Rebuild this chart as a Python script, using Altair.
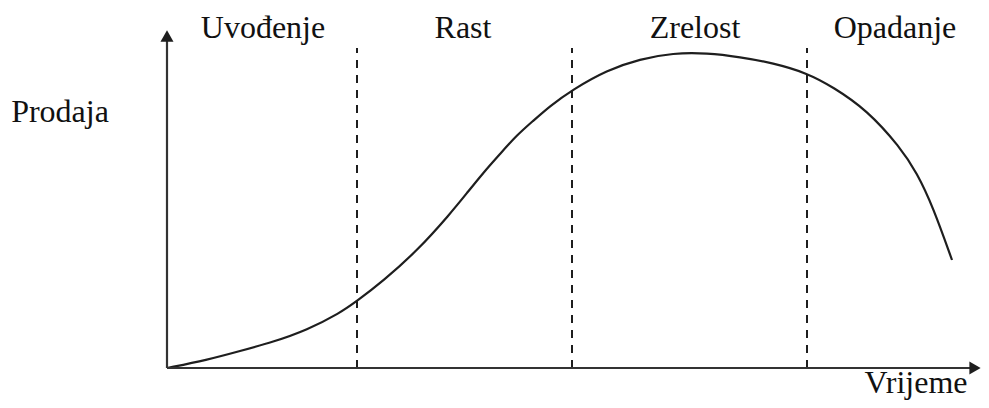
import altair as alt
import pandas as pd

# Product life-cycle curve (time, sales)
time_vals = [0, 40, 73, 106, 140, 173, 190, 216, 250, 283, 300, 316, 333, 350, 366,
             383, 405, 440, 473, 506, 540, 573, 606, 640, 666, 700, 733, 750, 766, 785]
sales_vals = [0, 8, 17, 26, 38, 55, 67, 87, 117, 154, 175, 195, 214, 233, 247,
              262, 278, 298, 309, 315, 315, 311, 305, 295, 281, 258, 221, 195, 161, 108]

# Stage boundaries
boundaries = [190, 405, 640]
boundary_top = 320

# Stage labels
stage_names = ["Uvođenje", "Rast", "Zrelost", "Opadanje"]
stage_x = [96, 296, 528, 728]
stage_y = [330, 330, 330, 330]

# Axis titles
axis_titles = ["Prodaja", "Vrijeme"]
axis_title_x = [-107, 749]
axis_title_y = [246, -25]

X_MAX = 814
Y_MAX = 338

xs = alt.Scale(domain=[0, X_MAX], nice=False, zero=False)
ys = alt.Scale(domain=[0, Y_MAX], nice=False, zero=False)

FONT = "Liberation Serif"
INK = "#1e1e1e"

curve_df = pd.DataFrame({"t": time_vals, "s": sales_vals})
curve = alt.Chart(curve_df).mark_line(
    color=INK, strokeWidth=2.2, interpolate="basis"
).encode(
    x=alt.X("t:Q", scale=xs, axis=None),
    y=alt.Y("s:Q", scale=ys, axis=None),
)

bound_df = pd.DataFrame({"x": boundaries, "y0": [0] * len(boundaries),
                         "y1": [boundary_top] * len(boundaries)})
dashes = alt.Chart(bound_df).mark_rule(
    color=INK, strokeWidth=2, strokeDash=[8, 7]
).encode(
    x=alt.X("x:Q", scale=xs, axis=None),
    y=alt.Y("y0:Q", scale=ys, axis=None),
    y2="y1:Q",
)

yaxis_df = pd.DataFrame({"x": [0], "y0": [0], "y1": [332]})
yaxis = alt.Chart(yaxis_df).mark_rule(color="#333333", strokeWidth=2.2).encode(
    x=alt.X("x:Q", scale=xs, axis=None),
    y=alt.Y("y0:Q", scale=ys, axis=None),
    y2="y1:Q",
)

xaxis_df = pd.DataFrame({"x0": [0], "x1": [808], "y": [0]})
xaxis = alt.Chart(xaxis_df).mark_rule(color="#333333", strokeWidth=2.2).encode(
    x=alt.X("x0:Q", scale=xs, axis=None),
    x2="x1:Q",
    y=alt.Y("y:Q", scale=ys, axis=None),
)

arrow_up_df = pd.DataFrame({"x": [0], "y": [332]})
arrow_up = alt.Chart(arrow_up_df).mark_point(
    shape="triangle-up", size=170, filled=True, color=INK, opacity=1
).encode(
    x=alt.X("x:Q", scale=xs, axis=None),
    y=alt.Y("y:Q", scale=ys, axis=None),
)

arrow_right_df = pd.DataFrame({"x": [808], "y": [0]})
arrow_right = alt.Chart(arrow_right_df).mark_point(
    shape="triangle-right", size=170, filled=True, color=INK, opacity=1
).encode(
    x=alt.X("x:Q", scale=xs, axis=None),
    y=alt.Y("y:Q", scale=ys, axis=None),
)

stage_df = pd.DataFrame({"name": stage_names, "x": stage_x, "y": stage_y})
stage_text = alt.Chart(stage_df).mark_text(
    font=FONT, fontSize=32, color="#111111", align="center", baseline="alphabetic"
).encode(
    x=alt.X("x:Q", scale=xs, axis=None),
    y=alt.Y("y:Q", scale=ys, axis=None),
    text="name:N",
)

title_df = pd.DataFrame({"name": axis_titles, "x": axis_title_x, "y": axis_title_y})
title_text = alt.Chart(title_df).mark_text(
    font=FONT, fontSize=32, color="#111111", align="center", baseline="alphabetic"
).encode(
    x=alt.X("x:Q", scale=xs, axis=None),
    y=alt.Y("y:Q", scale=ys, axis=None),
    text="name:N",
)

chart = alt.layer(
    dashes, curve, yaxis, xaxis, arrow_up, arrow_right, stage_text, title_text
).properties(
    width=X_MAX,
    height=Y_MAX,
    padding={"left": 159, "top": 22, "right": 0, "bottom": 32},
    autosize="none",
    background="white",
).configure_view(strokeWidth=0)

chart.save("out.html", embed_options={"renderer": "svg", "actions": False})
